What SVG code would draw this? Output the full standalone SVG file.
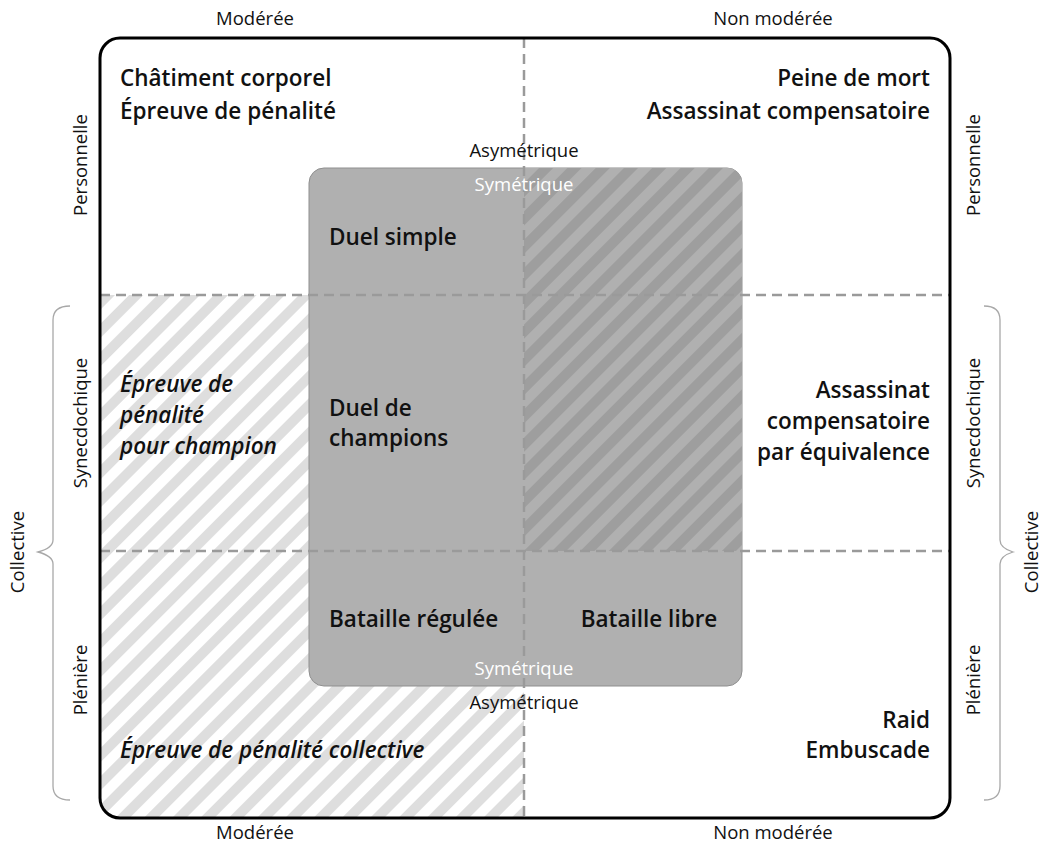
<svg xmlns="http://www.w3.org/2000/svg" width="1043" height="845" viewBox="0 0 1043 845">
<style>
.t{font-family:"Open Sans","Noto Sans",sans-serif;fill:#111}
.b{font-size:22.5px;font-weight:600}
.i{font-style:italic}
.s{font-size:18.5px;font-weight:400}
.w{fill:#ffffff}
.m{text-anchor:middle}
.e{text-anchor:end}
.dash{stroke:#9a9a9a;stroke-width:2.5;stroke-dasharray:10 6;fill:none}
.brace{stroke:#a8a8a8;stroke-width:1.3;fill:none}
</style>
<defs>
<pattern id="light" patternUnits="userSpaceOnUse" width="20" height="20" patternTransform="rotate(45)">
<rect width="20" height="20" fill="#ffffff"/>
<rect width="10" height="20" fill="#dedede"/>
</pattern>
<pattern id="dark" patternUnits="userSpaceOnUse" width="20" height="20" patternTransform="rotate(45)">
<rect width="20" height="20" fill="#b0b0b0"/>
<rect width="10" height="20" fill="#9e9e9e"/>
</pattern>
<clipPath id="outerClip"><rect x="100" y="38" width="850" height="780" rx="20"/></clipPath>
<clipPath id="grayClip"><rect x="309" y="168" width="433" height="518" rx="15"/></clipPath>
</defs>
<rect width="1043" height="845" fill="#ffffff"/>
<g id="hatch-light" clip-path="url(#outerClip)">
<rect x="100" y="295" width="424" height="523" fill="url(#light)"/>
</g>
<g id="symmetric-zone">
<rect x="309" y="168" width="433" height="518" rx="15" fill="#b0b0b0" stroke="#8f8f8f" stroke-width="1"/>
<g clip-path="url(#grayClip)"><rect x="524" y="168" width="218" height="383" fill="url(#dark)"/></g>
</g>
<g id="connectors">
<line class="dash" x1="524" y1="38" x2="524" y2="818"/>
<line class="dash" x1="100" y1="295" x2="950" y2="295"/>
<line class="dash" x1="100" y1="551" x2="950" y2="551"/>
<path class="brace" d="M70,306 Q53,306 53,320 L53,540 Q53,548 38,552 Q53,556 53,564 L53,786 Q53,800 70,800"/>
<path class="brace" d="M984,306 Q1000,306 1000,320 L1000,540 Q1000,548 1013,552 Q1000,556 1000,564 L1000,786 Q1000,800 984,800"/>
</g>
<g id="frame">
<rect x="100" y="38" width="850" height="780" rx="20" fill="none" stroke="#000" stroke-width="3"/>
</g>
<g id="axis-labels">
<text class="t s m" x="255" y="25">Modérée</text>
<text class="t s m" x="773" y="25">Non modérée</text>
<text class="t s m" x="255" y="839">Modérée</text>
<text class="t s m" x="773" y="839">Non modérée</text>
<text class="t s m" transform="translate(86.5,165) rotate(-90)">Personnelle</text>
<text class="t s m" transform="translate(86.5,423) rotate(-90)">Synecdochique</text>
<text class="t s m" transform="translate(86.5,680) rotate(-90)">Plénière</text>
<text class="t s m" transform="translate(979.5,165) rotate(-90)">Personnelle</text>
<text class="t s m" transform="translate(979.5,423) rotate(-90)">Synecdochique</text>
<text class="t s m" transform="translate(979.5,680) rotate(-90)">Plénière</text>
<text class="t s m" transform="translate(23.5,552) rotate(-90)">Collective</text>
<text class="t s m" transform="translate(1038,552) rotate(-90)">Collective</text>
<text class="t s m" x="524" y="157">Asymétrique</text>
<text class="t s m w" x="524" y="191">Symétrique</text>
<text class="t s m w" x="524" y="675">Symétrique</text>
<text class="t s m" x="524" y="709">Asymétrique</text>
</g>
<g id="node-personnelle-moderee">
<text class="t b" x="120" y="86">Châtiment corporel</text>
<text class="t b" x="120" y="119">Épreuve de pénalité</text>
</g>
<g id="node-personnelle-non-moderee">
<text class="t b e" x="930" y="86">Peine de mort</text>
<text class="t b e" x="930" y="119">Assassinat compensatoire</text>
</g>
<g id="node-duel-simple"><text class="t b" x="329" y="245">Duel simple</text></g>
<g id="node-epreuve-champion">
<text class="t b i" x="120" y="392">Épreuve de</text>
<text class="t b i" x="120" y="423">pénalité</text>
<text class="t b i" x="120" y="454">pour champion</text>
</g>
<g id="node-duel-champions">
<text class="t b" x="329" y="416">Duel de</text>
<text class="t b" x="329" y="446">champions</text>
</g>
<g id="node-assassinat-equivalence">
<text class="t b e" x="930" y="398">Assassinat</text>
<text class="t b e" x="930" y="429">compensatoire</text>
<text class="t b e" x="930" y="460">par équivalence</text>
</g>
<g id="node-bataille-regulee"><text class="t b" x="329" y="627">Bataille régulée</text></g>
<g id="node-bataille-libre"><text class="t b m" x="649" y="627">Bataille libre</text></g>
<g id="node-epreuve-collective"><text class="t b i" x="120" y="758">Épreuve de pénalité collective</text></g>
<g id="node-raid">
<text class="t b e" x="930" y="728">Raid</text>
<text class="t b e" x="930" y="758">Embuscade</text>
</g>
</svg>
